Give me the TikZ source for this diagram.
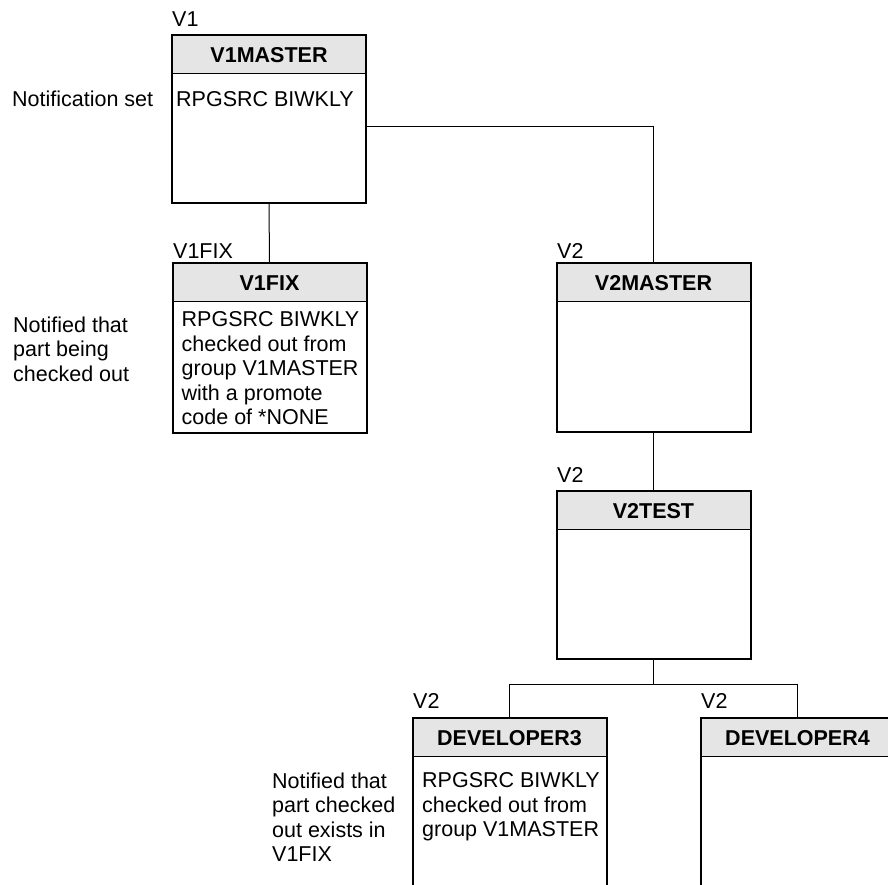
\documentclass[tikz,border=0pt]{standalone}
\usepackage{fontspec}
\setmainfont{Liberation Sans}
\begin{document}
\begin{tikzpicture}[x=1pt,y=-1pt,
  every node/.style={inner sep=0pt, font=\fontsize{21.5pt}{24.5pt}\selectfont},
  groupbox/.style={rectangle, draw, line width=2pt, minimum width=194pt,
    minimum height=#1,
    path picture={
      \fill[gray!20] (path picture bounding box.north west) rectangle
        ([yshift=-38pt]path picture bounding box.north east);
      \draw[line width=1pt] ([yshift=-38pt]path picture bounding box.north west)
        -- ([yshift=-38pt]path picture bounding box.north east);
    }},
  headtext/.style={font=\fontsize{21.5pt}{24.5pt}\selectfont\bfseries,
    text height=15.4pt, text depth=0pt},
  lbl/.style={anchor=base west},
  body/.style={anchor=north west, align=left},
  link/.style={line width=1pt}]
\clip (0,0) rectangle (888,884);

% group boxes
\node[groupbox=168pt] (m1)  at (269,119)   {};
\node[groupbox=170pt] (fix) at (269.5,348) {};
\node[groupbox=169pt] (v2m) at (653.5,347.5) {};
\node[groupbox=168pt] (v2t) at (653.5,575) {};
\node[groupbox=168pt] (d3)  at (509.5,802) {};
\node[groupbox=168pt] (d4)  at (797.5,802) {};

% group names in the header bands
\node[headtext] (m1t)  at ([yshift=-21pt]m1.north)  {V1MASTER};
\node[headtext] (fixt) at ([yshift=-21pt]fix.north) {V1FIX};
\node[headtext] (v2mt) at ([yshift=-21pt]v2m.north) {V2MASTER};
\node[headtext] (v2tt) at ([yshift=-21pt]v2t.north) {V2TEST};
\node[headtext] (d3t)  at ([yshift=-21pt]d3.north)  {DEVELOPER3};
\node[headtext] (d4t)  at ([yshift=-21pt]d4.north)  {DEVELOPER4};

% environment labels
\node[lbl] (e1)  at (172,26)  {V1};
\node[lbl] (e2)  at (173,258) {V1FIX};
\node[lbl] (e3)  at (557,258) {V2};
\node[lbl] (e4)  at (557,482) {V2};
\node[lbl] (e5)  at (413,708) {V2};
\node[lbl] (e6)  at (701,708) {V2};

% box contents
\node[lbl] (m1b) at (176,106) {RPGSRC BIWKLY};
\node[body] (fixb) at (181.5,311.5) {RPGSRC BIWKLY\\checked out from\\group V1MASTER\\with a promote\\code of *NONE};
\node[body] (d3b) at (422,772.5) {RPGSRC BIWKLY\\checked out from\\group V1MASTER};

% notes on the left
\node[lbl] (n1) at (12,106) {Notification set};
\node[body] (n2) at (13,316.5) {Notified that\\part being\\checked out};
\node[body] (n3) at (272,772.5) {Notified that\\part checked\\out exists in\\V1FIX};

% hierarchy connectors
\draw[link] (m1.south) -- (fix.north);
\draw[link] ([yshift=-7pt]m1.east) -| (v2m.north);
\draw[link] (v2m.south) -- (v2t.north);
\draw[link] (v2t.south) -- ++(0,24) coordinate (split);
\draw[link] (split) -| (d3.north);
\draw[link] (split) -| (d4.north);
\end{tikzpicture}
\end{document}
